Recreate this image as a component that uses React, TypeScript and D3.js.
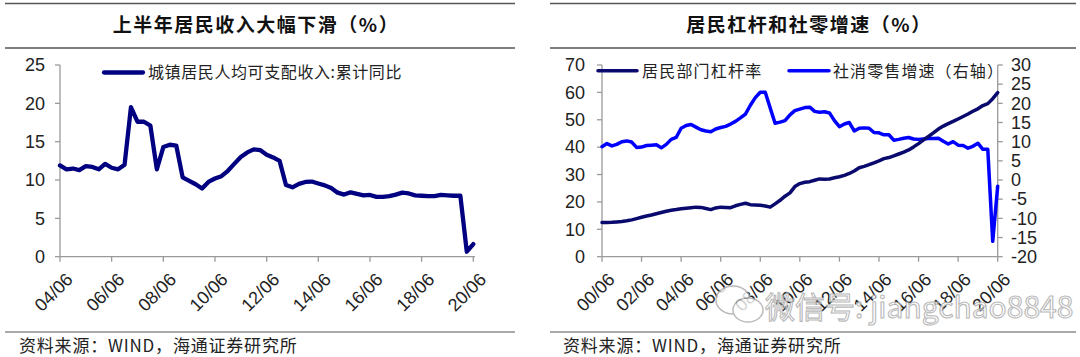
import React from "react";
import * as d3 from "d3";

// ---------- Data ----------
const incomeTicks = ["04/06", "06/06", "08/06", "10/06", "12/06", "14/06", "16/06", "18/06", "20/06"];
const incomeLabel = "城镇居民人均可支配收入:累计同比";
// quarterly, 2004/06 .. 2020/06
const incomeYoY = [
  11.9, 11.4, 11.5, 11.3, 11.8, 11.7, 11.4, 12.1, 11.6, 11.4,
  12.0, 19.5, 17.6, 17.6, 17.1, 11.4, 14.3, 14.6, 14.5, 10.35,
  9.9, 9.45, 8.9, 9.75, 10.2, 10.5, 11.2, 12.1, 13.0, 13.6,
  14.0, 13.9, 13.3, 12.95, 12.5, 9.35, 9.05, 9.5, 9.75, 9.8,
  9.55, 9.3, 8.95, 8.35, 8.1, 8.4, 8.2, 8.0, 8.05, 7.8,
  7.8, 7.9, 8.1, 8.35, 8.25, 8.0, 7.95, 7.9, 7.9, 8.05,
  8.0, 7.95, 7.95, 0.65, 1.65,
];

const levTicks = ["00/06", "02/06", "04/06", "06/06", "08/06", "10/06", "12/06", "14/06", "16/06", "18/06", "20/06"];
const levLabel = "居民部门杠杆率";
const retailLabel = "社消零售增速（右轴）";
// quarterly, 2000/06 .. 2020/06
const leverage = [
  12.5, 12.5, 12.55, 12.7, 12.85, 13.1, 13.45, 13.9, 14.4, 14.85,
  15.25, 15.7, 16.15, 16.6, 16.95, 17.2, 17.5, 17.7, 17.9, 18.1,
  18.0, 17.6, 17.2, 17.8, 18.1, 18.0, 17.9, 18.6, 19.1, 19.5,
  19.0, 18.9, 18.8, 18.5, 18.1, 19.3, 20.6, 22.1, 23.3, 25.6,
  26.7, 27.2, 27.4, 27.9, 28.4, 28.3, 28.4, 28.8, 29.2, 29.7,
  30.4, 31.3, 32.5, 33.0, 33.6, 34.3, 35.0, 35.8, 36.2, 36.8,
  37.5, 38.2, 39.0, 40.1, 41.3, 42.7, 43.9, 45.2, 46.6, 47.7,
  48.6, 49.4, 50.3, 51.2, 52.1, 53.1, 54.0, 55.2, 55.9, 57.7,
  59.9,
];
const retail = [
  8.7, 9.5, 8.9, 9.3, 10.0, 10.2, 9.9, 8.5, 8.6, 9.0,
  9.1, 9.2, 8.4, 9.3, 10.6, 11.1, 13.5, 14.2, 14.5, 13.8,
  13.1, 12.8, 12.6, 13.3, 13.7, 14.0, 14.6, 15.3, 16.2, 17.2,
  19.5, 21.5, 22.9, 22.9, 18.8, 14.8, 15.1, 15.5, 17.0, 18.1,
  18.5, 18.9, 19.0, 17.9, 17.7, 17.8, 17.5, 15.5, 13.9, 14.6,
  15.0, 12.8, 13.5, 13.6, 13.5, 12.4, 12.3, 11.8, 11.8, 10.4,
  10.6, 10.9, 11.1, 10.7, 10.6, 10.7, 10.8, 10.8, 10.9, 10.1,
  9.4, 10.0, 9.1, 9.0, 8.3, 8.8, 9.6, 8.0, 8.0, -16.0,
  -1.6,
];

const leftYTicks = [0, 5, 10, 15, 20, 25];
const rightYLTicks = [0, 10, 20, 30, 40, 50, 60, 70];
const rightYRTicks = [-20, -15, -10, -5, 0, 5, 10, 15, 20, 25, 30];

const titleLeft = "上半年居民收入大幅下滑（%）";
const titleRight = "居民杠杆和社零增速（%）";
const source = "资料来源：WIND，海通证券研究所";

// ---------- helpers ----------
const parseTick = (s: string) => new Date(2000 + +s.slice(0, 2), +s.slice(3, 5) - 1, 1);
const incomeDates = d3.timeMonth.range(new Date(2004, 5, 1), new Date(2020, 6, 1), 3);
const levDates = d3.timeMonth.range(new Date(2000, 5, 1), new Date(2020, 6, 1), 3);

const CJK = "'Noto Sans CJK SC', sans-serif";
const NUM = "'Liberation Sans', Arial, sans-serif";
const AXIS = "#9a9a9a";
const TXT = "#222";

function XLabels({ ticks, x, y0 }: { ticks: string[]; x: d3.ScaleTime<number, number>; y0: number }) {
  return (
    <g>
      {ticks.map((t) => {
        const px = x(parseTick(t));
        return (
          <g key={t}>
            <line x1={px} x2={px} y1={y0} y2={y0 + 5} stroke={AXIS} strokeWidth={1.3} />
            <text
              transform={`translate(${px + 5},${y0 + 15}) rotate(-45)`}
              textAnchor="end"
              dy="0.7em"
              fontFamily={NUM}
              fontSize={18}
              fill={TXT}
            >
              {t}
            </text>
          </g>
        );
      })}
    </g>
  );
}

export default function App() {
  const Y0 = 256.7;
  const Y1 = 65;

  // left chart
  const xL = d3.scaleTime().domain([new Date(2004, 5, 1), new Date(2020, 5, 1)]).range([60, 473.3]);
  const yL = d3.scaleLinear().domain([0, 25]).range([Y0, Y1]);
  const incomeLine = d3
    .line<number>()
    .x((_, i) => xL(incomeDates[i]))
    .y((d) => yL(d))(incomeYoY) as string;

  // right chart
  const xR = d3.scaleTime().domain([new Date(2000, 5, 1), new Date(2020, 5, 1)]).range([602, 997.7]);
  const yRL = d3.scaleLinear().domain([0, 70]).range([Y0, Y1]);
  const yRR = d3.scaleLinear().domain([-20, 30]).range([Y0, Y1]);
  const levLine = d3
    .line<number>()
    .x((_, i) => xR(levDates[i]))
    .y((d) => yRL(d))(leverage) as string;
  const retailLine = d3
    .line<number>()
    .x((_, i) => xR(levDates[i]))
    .y((d) => yRR(d))(retail) as string;

  return (
    <svg
      width={1080}
      height={357}
      style={{ position: "absolute", left: 0, top: 0, background: "#fff" }}
    >
      <rect width={1080} height={357} fill="#fff" />

      {/* title bands */}
      <line x1={5} x2={515} y1={3.5} y2={3.5} stroke="#555" strokeWidth={1.5} />
      <line x1={5} x2={515} y1={48} y2={48} stroke="#555" strokeWidth={1.5} />
      <line x1={550} x2={1076} y1={3.5} y2={3.5} stroke="#555" strokeWidth={1.5} />
      <line x1={550} x2={1076} y1={48} y2={48} stroke="#555" strokeWidth={1.5} />
      <text x={256} y={32} textAnchor="middle" fontFamily={CJK} fontWeight={700} fontSize={19} letterSpacing={1.5} fill="#111">
        {titleLeft}
      </text>
      <text x={809} y={32} textAnchor="middle" fontFamily={CJK} fontWeight={700} fontSize={19} letterSpacing={1.5} fill="#111">
        {titleRight}
      </text>

      {/* footer */}
      <line x1={5} x2={515} y1={332} y2={332} stroke="#555" strokeWidth={1.2} />
      <line x1={550} x2={1076} y1={332} y2={332} stroke="#555" strokeWidth={1.2} />
      <text x={19} y={352} fontFamily={CJK} fontSize={17} letterSpacing={0.8} fill={TXT}>
        {source}
      </text>
      <text x={563} y={352} fontFamily={CJK} fontSize={17} letterSpacing={0.8} fill={TXT}>
        {source}
      </text>

      {/* ---- left chart axes ---- */}
      <line x1={60} x2={60} y1={Y1} y2={Y0} stroke={AXIS} strokeWidth={1.3} />
      <line x1={60} x2={475} y1={Y0} y2={Y0} stroke={AXIS} strokeWidth={1.3} />
      {leftYTicks.map((t) => (
        <g key={t}>
          <line x1={55} x2={60} y1={yL(t)} y2={yL(t)} stroke={AXIS} strokeWidth={1.3} />
          <text x={45} y={yL(t)} dy="0.35em" textAnchor="end" fontFamily={NUM} fontSize={18} fill={TXT}>
            {t}
          </text>
        </g>
      ))}
      <XLabels ticks={incomeTicks} x={xL} y0={Y0} />
      <path d={incomeLine} fill="none" stroke="#000080" strokeWidth={4.3} strokeLinejoin="round" strokeLinecap="round" />
      {/* legend */}
      <line x1={104} x2={143} y1={72.5} y2={72.5} stroke="#000080" strokeWidth={4.3} strokeLinecap="round" />
      <text x={148} y={78} fontFamily={CJK} fontSize={16} letterSpacing={0.6} fill={TXT}>
        {incomeLabel}
      </text>

      {/* ---- right chart axes ---- */}
      <line x1={602} x2={602} y1={Y1} y2={Y0} stroke={AXIS} strokeWidth={1.3} />
      <line x1={997.7} x2={997.7} y1={Y1} y2={Y0} stroke={AXIS} strokeWidth={1.3} />
      <line x1={602} x2={998} y1={Y0} y2={Y0} stroke={AXIS} strokeWidth={1.3} />
      {rightYLTicks.map((t) => (
        <g key={t}>
          <line x1={597} x2={602} y1={yRL(t)} y2={yRL(t)} stroke={AXIS} strokeWidth={1.3} />
          <text x={585} y={yRL(t)} dy="0.35em" textAnchor="end" fontFamily={NUM} fontSize={18} fill={TXT}>
            {t}
          </text>
        </g>
      ))}
      {rightYRTicks.map((t) => (
        <g key={t}>
          <line x1={997.7} x2={1002.7} y1={yRR(t)} y2={yRR(t)} stroke={AXIS} strokeWidth={1.3} />
          <text x={1011} y={yRR(t)} dy="0.35em" textAnchor="start" fontFamily={NUM} fontSize={18} fill={TXT}>
            {t}
          </text>
        </g>
      ))}
      <XLabels ticks={levTicks} x={xR} y0={Y0} />
      <path d={retailLine} fill="none" stroke="#0000ff" strokeWidth={3.5} strokeLinejoin="round" strokeLinecap="round" />
      <path d={levLine} fill="none" stroke="#0a0a6e" strokeWidth={3.5} strokeLinejoin="round" strokeLinecap="round" />
      {/* legend */}
      <line x1={598} x2={637} y1={70.7} y2={70.7} stroke="#0a0a6e" strokeWidth={3.5} strokeLinecap="round" />
      <text x={642} y={76.5} fontFamily={CJK} fontSize={16} letterSpacing={1.2} fill={TXT}>
        {levLabel}
      </text>
      <line x1={789} x2={829} y1={70.7} y2={70.7} stroke="#0000ff" strokeWidth={3.5} strokeLinecap="round" />
      <text x={833} y={76.5} fontFamily={CJK} fontSize={16} letterSpacing={1.1} fill={TXT}>
        {retailLabel}
      </text>

      {/* watermark */}
      <g opacity={0.8}>
        <ellipse cx={733} cy={300} rx={17} ry={14} fill="#fff" stroke="#aaa" strokeWidth={1.5} />
        <ellipse cx={748} cy={310} rx={15} ry={12} fill="#fff" stroke="#aaa" strokeWidth={1.5} />
        <text x={765} y={318} fontFamily={CJK} fontSize={30} fill="#fff" stroke="#a8a8a8" strokeWidth={1.1}>
          微信号: jiangchao8848
        </text>
      </g>
    </svg>
  );
}
